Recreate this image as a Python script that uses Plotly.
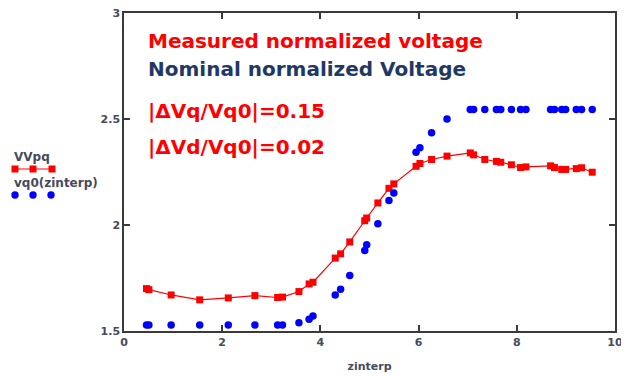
import plotly.graph_objects as go

# ---- data ----
zinterp = [0.458, 0.507, 0.96, 1.542, 2.124, 2.666, 3.129, 3.228, 3.563, 3.77,
           3.849, 4.302, 4.411, 4.598, 4.903, 4.943, 5.17, 5.396, 5.495, 5.948,
           6.027, 6.264, 6.579, 7.052, 7.121, 7.348, 7.584, 7.673, 7.89, 8.077,
           8.186, 8.688, 8.767, 8.915, 8.994, 9.211, 9.319, 9.536]
VVpq = [1.70, 1.695, 1.67, 1.647, 1.656, 1.667, 1.658, 1.66, 1.686, 1.722,
        1.73, 1.844, 1.864, 1.92, 2.02, 2.033, 2.104, 2.173, 2.194, 2.277,
        2.29, 2.309, 2.325, 2.34, 2.331, 2.309, 2.30, 2.296, 2.284, 2.271,
        2.274, 2.279, 2.271, 2.262, 2.262, 2.266, 2.27, 2.249]
vq0 = [1.528, 1.528, 1.528, 1.528, 1.528, 1.528, 1.528, 1.528, 1.539, 1.555,
       1.571, 1.67, 1.697, 1.762, 1.88, 1.907, 2.006, 2.115, 2.151, 2.343,
       2.364, 2.435, 2.50, 2.545, 2.545, 2.545, 2.545, 2.545, 2.545, 2.545,
       2.545, 2.545, 2.545, 2.545, 2.545, 2.545, 2.545, 2.545]
x_ticks = [0, 2, 4, 6, 8, 10]
y_ticks = [1.5, 2, 2.5, 3]
notes = ["Measured normalized voltage", "Nominal normalized Voltage",
         "|ΔVq/Vq0|=0.15", "|ΔVd/Vq0|=0.02"]
note_colors = ["#ff0000", "#1f3864", "#ff0000", "#ff0000"]
legend_names = ["VVpq", "vq0(zinterp)"]

RED = "#ff0000"
BLUE = "#0000ff"
AXC = "#3a3a3a"
LBL = "#474a5c"
FONT = "DejaVu Sans"

WIN_W, WIN_H = 629, 376
OFF = 8  # page body margin
W_FIG, H_FIG = WIN_W - OFF, WIN_H - OFF
# plot area in window pixels
L, R, T, B = 124, 615, 13, 331
PW, PH = R - L, B - T


def px(xp):
    return (xp - L) / PW


def py(yp):
    return (B - yp) / PH


fig = go.Figure()
fig.add_trace(go.Scatter(x=zinterp, y=VVpq, mode="lines+markers", name=legend_names[0],
                         line=dict(color=RED, width=1.2),
                         marker=dict(symbol="square", size=7, color=RED)))
fig.add_trace(go.Scatter(x=zinterp, y=vq0, mode="markers", name=legend_names[1],
                         marker=dict(symbol="circle", size=7.5, color=BLUE)))

axis_common = dict(showgrid=False, zeroline=False, showline=True, linecolor=AXC,
                   linewidth=1.5, mirror="ticks", ticks="inside", ticklen=6,
                   tickwidth=1.5, tickcolor=AXC, automargin=False,
                   ticklabeloverflow="allow",
                   tickfont=dict(family=FONT, size=11, color=LBL, weight="bold"))
fig.update_xaxes(range=[0, 10], tickvals=x_ticks, **axis_common,
                 title=dict(text="zinterp", font=dict(family=FONT, size=11, color=LBL, weight="bold"),
                            standoff=14))
fig.update_yaxes(range=[1.5, 3], tickvals=y_ticks, **axis_common)

ann = []
note_y = [41, 68.5, 111, 147]
for t, c, yy in zip(notes, note_colors, note_y):
    ann.append(dict(text=t, xref="paper", yref="paper", x=px(146), y=py(yy),
                    xanchor="left", yanchor="middle", showarrow=False,
                    font=dict(family=FONT, size=20, color=c, weight="bold")))
# legend labels
ann.append(dict(text=legend_names[0], xref="paper", yref="paper", x=px(12), y=py(157),
                xanchor="left", yanchor="middle", showarrow=False,
                font=dict(family=FONT, size=12, color=LBL, weight="bold")))
ann.append(dict(text=legend_names[1], xref="paper", yref="paper", x=px(12), y=py(183),
                xanchor="left", yanchor="middle", showarrow=False,
                font=dict(family=FONT, size=12, color=LBL, weight="bold")))

shapes = [dict(type="line", xref="paper", yref="paper", x0=px(13), x1=px(55),
               y0=py(169), y1=py(169), line=dict(color=RED, width=1.2))]
for cx in [15, 33, 52]:
    shapes.append(dict(type="rect", xref="paper", yref="paper",
                       x0=px(cx - 3.5), x1=px(cx + 3.5), y0=py(169 + 3.5), y1=py(169 - 3.5),
                       fillcolor=RED, line=dict(width=0)))
for cx in [15, 33, 51]:
    shapes.append(dict(type="circle", xref="paper", yref="paper",
                       x0=px(cx - 3.7), x1=px(cx + 3.7), y0=py(195 + 3.7), y1=py(195 - 3.7),
                       fillcolor=BLUE, line=dict(width=0)))

fig.update_layout(width=W_FIG, height=H_FIG, showlegend=False,
                  margin=dict(l=L - OFF, r=WIN_W - R, t=T - OFF, b=WIN_H - B, autoexpand=False),
                  paper_bgcolor="white", plot_bgcolor="white",
                  annotations=ann, shapes=shapes)

fig.write_html("out.html")
